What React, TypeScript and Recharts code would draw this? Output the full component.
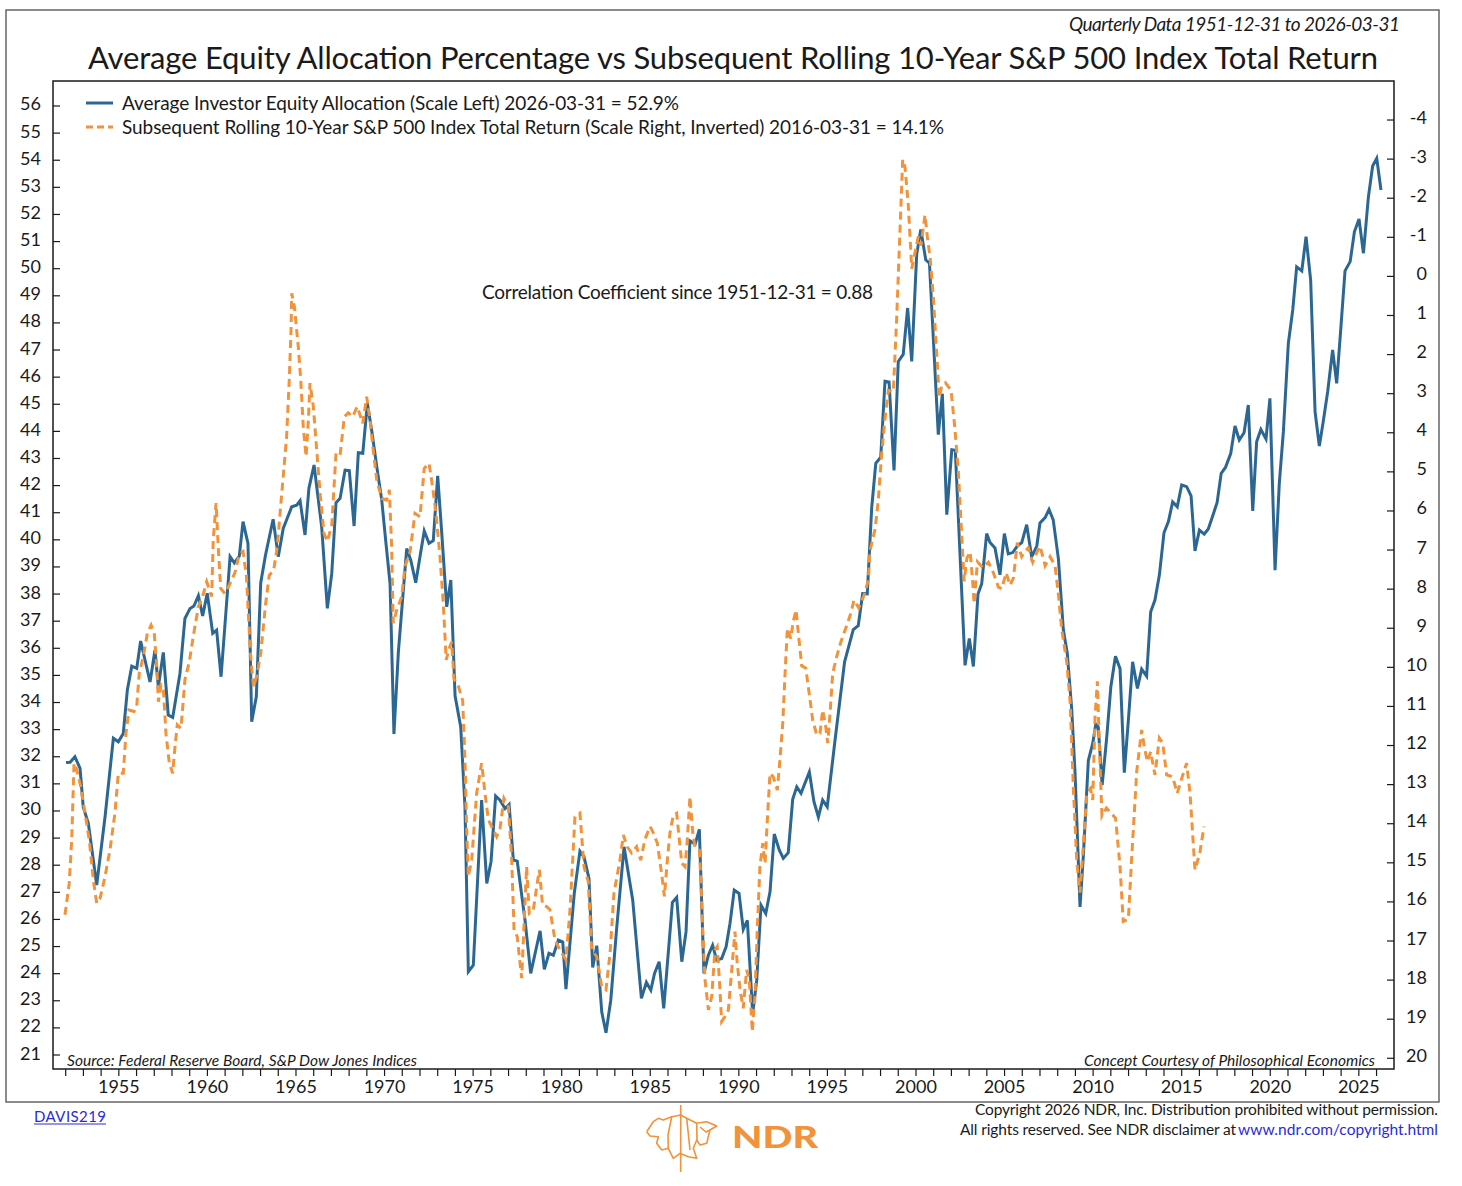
import React from "react";
import { LineChart, Line, XAxis, YAxis } from "recharts";

// Average investor equity allocation (%) at turning points
const equityAllocation: [number, number][] = [
  [1952.02, 31.79], [1952.25, 31.8], [1952.52, 32.0], [1952.81, 31.57], [1952.99, 30.15],
  [1953.28, 29.54], [1953.75, 27.27], [1954.22, 29.78], [1954.69, 32.68], [1954.97, 32.55],
  [1955.25, 32.86], [1955.48, 34.46], [1955.73, 35.34], [1956.01, 35.26], [1956.23, 36.27],
  [1956.76, 34.76], [1957.04, 35.93], [1957.23, 34.58], [1957.51, 35.85], [1957.79, 33.54],
  [1958.04, 33.45], [1958.45, 35.07], [1958.73, 37.1], [1959.02, 37.47], [1959.24, 37.56],
  [1959.49, 37.94], [1959.73, 37.19], [1959.99, 38.03], [1960.3, 36.55], [1960.52, 36.67],
  [1960.77, 34.95], [1961.28, 39.38], [1961.52, 39.15], [1961.8, 39.4], [1962.01, 40.67],
  [1962.29, 39.87], [1962.5, 33.29], [1962.76, 34.21], [1963.01, 38.42], [1963.28, 39.44],
  [1963.71, 40.76], [1964.0, 39.38], [1964.28, 40.42], [1964.76, 41.22], [1965.04, 41.28],
  [1965.23, 41.44], [1965.51, 40.18], [1965.73, 41.9], [1966.02, 42.76], [1966.45, 40.48],
  [1966.77, 37.47], [1967.02, 38.76], [1967.26, 41.37], [1967.49, 41.53], [1967.77, 42.57],
  [1968.01, 42.55], [1968.28, 40.51], [1968.52, 43.21], [1968.77, 43.19], [1969.03, 45.03],
  [1969.27, 44.05], [1969.56, 42.7], [1969.84, 41.47], [1970.08, 39.87], [1970.31, 38.39],
  [1970.53, 32.84], [1970.78, 35.87], [1971.25, 39.68], [1971.48, 39.25], [1971.76, 38.42],
  [1972.0, 39.38], [1972.24, 40.33], [1972.51, 39.87], [1972.75, 39.97], [1973.0, 42.36],
  [1973.23, 40.24], [1973.51, 37.53], [1973.74, 38.52], [1973.98, 34.25], [1974.3, 33.1],
  [1974.54, 30.15], [1974.73, 24.07], [1975.01, 24.31], [1975.48, 30.4], [1975.77, 27.33],
  [1976.01, 28.13], [1976.27, 30.55], [1976.52, 30.4], [1976.8, 30.09], [1977.03, 30.24],
  [1977.27, 28.19], [1977.49, 28.15], [1977.93, 25.97], [1978.25, 24.01], [1978.78, 25.58],
  [1979.02, 24.16], [1979.28, 24.75], [1979.53, 24.68], [1979.81, 25.24], [1980.06, 25.17],
  [1980.24, 23.43], [1980.71, 26.96], [1981.03, 28.52], [1981.26, 28.31], [1981.54, 27.51],
  [1981.75, 24.23], [1981.98, 25.03], [1982.26, 22.59], [1982.5, 21.82], [1982.77, 23.02],
  [1983.11, 25.73], [1983.52, 28.68], [1984.01, 26.71], [1984.5, 23.09], [1984.78, 23.68],
  [1985.03, 23.39], [1985.24, 24.01], [1985.5, 24.44], [1985.76, 22.72], [1986.25, 26.63],
  [1986.49, 26.81], [1986.78, 24.44], [1987.02, 25.55], [1987.24, 28.9], [1987.53, 28.78],
  [1987.77, 29.32], [1988.03, 24.01], [1988.28, 24.68], [1988.52, 25.05], [1988.75, 24.5],
  [1989.03, 24.56], [1989.28, 24.99], [1989.5, 25.85], [1989.74, 27.08], [1990.01, 26.96],
  [1990.25, 25.63], [1990.48, 25.97], [1990.78, 22.53], [1991.01, 23.76], [1991.25, 26.53],
  [1991.52, 26.22], [1991.76, 27.02], [1992.0, 29.15], [1992.28, 28.56], [1992.51, 28.25],
  [1992.79, 28.46], [1993.04, 30.43], [1993.27, 30.89], [1993.51, 30.65], [1993.98, 31.44],
  [1994.24, 30.34], [1994.49, 29.78], [1994.73, 30.4], [1994.99, 30.15], [1995.43, 32.61],
  [1995.97, 35.5], [1996.46, 36.69], [1996.74, 36.83], [1996.99, 38.02], [1997.25, 38.01],
  [1997.5, 41.18], [1997.73, 42.82], [1998.01, 43.05], [1998.25, 45.85], [1998.48, 45.82],
  [1998.76, 42.56], [1999.0, 46.58], [1999.28, 46.84], [1999.53, 48.55], [1999.76, 46.58],
  [2000.04, 50.53], [2000.27, 51.45], [2000.55, 50.33], [2000.76, 50.2], [2001.26, 43.88],
  [2001.49, 45.39], [2001.74, 40.93], [2002.02, 43.32], [2002.22, 43.3], [2002.77, 35.37],
  [2003.01, 36.36], [2003.24, 35.33], [2003.5, 38.0], [2003.71, 38.38], [2003.99, 40.23],
  [2004.18, 39.9], [2004.46, 39.7], [2004.74, 38.71], [2004.99, 40.23], [2005.21, 39.48],
  [2005.46, 39.53], [2005.72, 39.77], [2005.97, 39.9], [2006.25, 40.56], [2006.53, 39.37],
  [2006.82, 39.77], [2007.0, 40.62], [2007.29, 40.82], [2007.51, 41.12], [2007.75, 40.73],
  [2008.04, 39.3], [2008.32, 36.67], [2008.54, 35.82], [2008.79, 33.77], [2008.98, 31.4],
  [2009.26, 26.46], [2009.45, 28.37], [2009.73, 31.86], [2009.98, 32.5], [2010.15, 33.2],
  [2010.29, 33.1], [2010.51, 30.95], [2010.77, 32.73], [2011.0, 34.58], [2011.26, 35.71],
  [2011.52, 35.25], [2011.76, 31.41], [2011.99, 33.35], [2012.23, 35.5], [2012.5, 34.52],
  [2012.74, 35.23], [2013.02, 34.97], [2013.25, 37.35], [2013.49, 37.78], [2013.74, 38.7],
  [2014.0, 40.26], [2014.25, 40.67], [2014.49, 41.4], [2014.75, 41.22], [2015.0, 42.02],
  [2015.28, 41.96], [2015.53, 41.62], [2015.75, 39.59], [2016.0, 40.36], [2016.27, 40.21],
  [2016.5, 40.4], [2016.75, 40.88], [2017.0, 41.38], [2017.23, 42.45], [2017.47, 42.67],
  [2017.77, 43.19], [2018.01, 44.2], [2018.25, 43.68], [2018.52, 43.95], [2018.76, 44.97],
  [2019.01, 41.07], [2019.23, 43.62], [2019.47, 44.07], [2019.76, 43.72], [2019.98, 45.22],
  [2020.27, 38.88], [2020.51, 42.08], [2020.74, 43.99], [2021.02, 47.25], [2021.27, 48.48],
  [2021.49, 50.07], [2021.78, 49.92], [2022.02, 51.18], [2022.28, 49.58], [2022.53, 44.72],
  [2022.77, 43.46], [2022.99, 44.36], [2023.24, 45.46], [2023.52, 47.0], [2023.75, 45.77],
  [2023.99, 47.86], [2024.22, 49.92], [2024.51, 50.26], [2024.75, 51.36], [2025.01, 51.83],
  [2025.26, 50.57], [2025.54, 52.65], [2025.78, 53.79], [2026.01, 54.07], [2026.25, 52.9],
];

// Subsequent rolling 10-year S&P 500 total return (%), plotted on the inverted right scale
const subsequentReturn: [number, number][] = [
  [1951.96, 16.33], [1952.2, 15.52], [1952.34, 14.41], [1952.47, 12.45], [1952.62, 12.62],
  [1952.85, 13.05], [1953.09, 13.73], [1953.33, 14.41], [1953.56, 15.44], [1953.75, 16.03],
  [1953.94, 15.91], [1954.22, 15.35], [1954.5, 14.67], [1954.78, 13.73], [1954.97, 12.71],
  [1955.25, 12.71], [1955.4, 11.69], [1955.57, 11.09], [1955.86, 11.13], [1956.01, 11.0],
  [1956.15, 10.15], [1956.38, 9.73], [1956.61, 9.13], [1956.82, 8.92], [1957.0, 9.13],
  [1957.14, 9.98], [1957.23, 10.88], [1957.38, 10.45], [1957.51, 10.53], [1957.66, 11.69],
  [1957.85, 12.45], [1958.04, 12.71], [1958.17, 12.03], [1958.3, 11.47], [1958.51, 11.56],
  [1958.73, 10.32], [1958.98, 9.85], [1959.2, 9.21], [1959.49, 8.45], [1959.73, 8.19],
  [1959.96, 7.81], [1960.24, 8.19], [1960.33, 6.74], [1960.49, 5.8], [1960.61, 6.91],
  [1960.75, 7.98], [1960.99, 8.11], [1961.28, 7.85], [1961.56, 7.57], [1961.8, 7.1],
  [1962.01, 7.04], [1962.2, 7.65], [1962.31, 8.62], [1962.44, 9.7], [1962.6, 10.5],
  [1962.8, 10.2], [1963.02, 9.6], [1963.28, 8.4], [1963.49, 7.65], [1963.74, 7.51],
  [1963.95, 6.9], [1964.1, 6.06], [1964.28, 5.12], [1964.47, 4.1], [1964.62, 2.65],
  [1964.72, 1.37], [1964.76, 0.43], [1964.91, 0.77], [1965.13, 1.8], [1965.27, 2.65],
  [1965.41, 3.84], [1965.57, 4.61], [1965.7, 3.67], [1965.79, 2.73], [1965.98, 3.33],
  [1966.17, 4.44], [1966.36, 5.55], [1966.58, 6.57], [1966.77, 6.78], [1967.02, 6.36],
  [1967.26, 4.52], [1967.49, 4.57], [1967.73, 3.59], [1967.95, 3.49], [1968.2, 3.59],
  [1968.46, 3.33], [1968.77, 3.76], [1968.99, 3.08], [1969.18, 3.67], [1969.36, 4.44],
  [1969.56, 5.21], [1969.84, 5.68], [1970.12, 5.72], [1970.27, 5.46], [1970.4, 6.91],
  [1970.49, 8.87], [1970.69, 8.53], [1970.97, 8.19], [1971.15, 7.42], [1971.44, 7.04],
  [1971.72, 6.06], [1972.0, 6.15], [1972.24, 4.91], [1972.51, 4.78], [1972.71, 5.38],
  [1972.9, 6.06], [1973.13, 7.17], [1973.32, 8.4], [1973.48, 9.81], [1973.66, 9.5],
  [1973.79, 9.35], [1973.92, 10.3], [1974.16, 10.47], [1974.41, 10.85], [1974.54, 12.37],
  [1974.63, 14.07], [1974.73, 15.35], [1974.92, 14.93], [1975.2, 13.22], [1975.48, 12.45],
  [1975.67, 13.22], [1975.86, 13.9], [1976.05, 14.07], [1976.33, 14.33], [1976.52, 14.12],
  [1976.74, 13.35], [1976.99, 13.56], [1977.18, 14.93], [1977.31, 16.72], [1977.49, 16.89],
  [1977.74, 17.95], [1977.87, 16.63], [1978.02, 15.1], [1978.17, 16.29], [1978.4, 16.2],
  [1978.62, 15.52], [1978.74, 15.18], [1978.92, 16.08], [1979.15, 16.12], [1979.34, 16.2],
  [1979.62, 16.97], [1979.9, 17.23], [1980.24, 17.48], [1980.47, 16.2], [1980.75, 13.82],
  [1981.03, 13.73], [1981.26, 15.1], [1981.5, 15.48], [1981.69, 17.23], [1981.98, 17.4],
  [1982.26, 18.17], [1982.5, 18.25], [1982.73, 17.31], [1982.95, 15.78], [1983.29, 14.93],
  [1983.48, 14.29], [1983.7, 14.59], [1983.95, 14.75], [1984.23, 14.59], [1984.46, 14.93],
  [1984.7, 14.4], [1984.99, 14.07], [1985.14, 14.2], [1985.4, 14.5], [1985.64, 15.27],
  [1985.8, 15.86], [1985.95, 15.0], [1986.11, 14.24], [1986.3, 13.78], [1986.49, 13.73],
  [1986.64, 14.41], [1986.78, 15.01], [1986.96, 15.1], [1987.09, 14.41], [1987.24, 13.31],
  [1987.4, 14.24], [1987.52, 14.59], [1987.77, 14.67], [1987.86, 15.44], [1987.96, 16.72],
  [1988.09, 17.99], [1988.28, 18.76], [1988.47, 18.42], [1988.65, 17.23], [1988.78, 17.14],
  [1988.9, 17.99], [1989.03, 19.06], [1989.22, 18.93], [1989.41, 18.76], [1989.6, 17.74],
  [1989.78, 16.76], [1989.91, 17.57], [1990.07, 18.25], [1990.25, 18.72], [1990.44, 17.74],
  [1990.59, 17.99], [1990.76, 19.32], [1990.91, 18.42], [1991.04, 16.72], [1991.19, 15.1],
  [1991.35, 14.5], [1991.48, 15.01], [1991.63, 13.73], [1991.76, 12.71], [1991.94, 12.8],
  [1992.17, 13.14], [1992.32, 12.37], [1992.48, 11.43], [1992.61, 10.15], [1992.74, 9.0],
  [1992.93, 9.26], [1993.07, 8.83], [1993.23, 8.53], [1993.36, 9.13], [1993.55, 9.96],
  [1993.78, 10.02], [1994.02, 10.83], [1994.17, 11.35], [1994.4, 11.73], [1994.58, 11.69],
  [1994.73, 11.09], [1994.88, 11.43], [1995.02, 11.94], [1995.15, 11.17], [1995.3, 10.15],
  [1995.52, 9.73], [1995.76, 9.35], [1996.09, 8.93], [1996.32, 8.62], [1996.5, 8.28],
  [1996.77, 8.48], [1997.09, 8.13], [1997.31, 7.76], [1997.4, 7.02], [1997.69, 6.47],
  [1997.87, 5.74], [1998.06, 4.55], [1998.25, 3.64], [1998.44, 2.91], [1998.72, 2.95],
  [1998.91, 1.08], [1999.1, -1.2], [1999.25, -2.99], [1999.38, -2.8], [1999.57, -1.8],
  [1999.76, -0.2], [2000.13, -1.02], [2000.28, -0.79], [2000.51, -1.57], [2000.64, -1.02],
  [2000.8, -0.47], [2000.98, 0.53], [2001.17, 1.99], [2001.32, 3.1], [2001.45, 2.81],
  [2001.66, 2.72], [2001.98, 2.91], [2002.2, 3.9], [2002.39, 5.0], [2002.58, 6.6],
  [2002.72, 7.8], [2002.88, 7.2], [2003.06, 7.05], [2003.2, 7.8], [2003.28, 8.37],
  [2003.47, 7.3], [2003.77, 7.45], [2004.09, 7.31], [2004.37, 7.58], [2004.65, 7.95],
  [2004.84, 7.99], [2005.09, 7.58], [2005.31, 7.9], [2005.5, 7.72], [2005.72, 6.81],
  [2005.97, 7.17], [2006.16, 7.03], [2006.34, 6.94], [2006.59, 7.31], [2006.85, 7.03],
  [2007.0, 6.9], [2007.29, 7.4], [2007.57, 7.17], [2007.85, 7.4], [2008.04, 8.13],
  [2008.23, 9.04], [2008.51, 9.86], [2008.7, 10.87], [2008.89, 13.15], [2009.08, 14.98],
  [2009.26, 15.76], [2009.45, 14.52], [2009.64, 13.24], [2009.85, 13.1], [2009.98, 13.39],
  [2010.11, 11.26], [2010.24, 10.36], [2010.35, 12.0], [2010.5, 13.8], [2010.75, 13.6],
  [2010.99, 13.72], [2011.27, 13.86], [2011.52, 15.1], [2011.7, 16.5], [2011.99, 16.44],
  [2012.17, 14.93], [2012.46, 12.67], [2012.74, 11.6], [2012.89, 12.03], [2013.06, 12.41],
  [2013.25, 12.16], [2013.49, 12.75], [2013.74, 11.81], [2013.93, 11.94], [2014.15, 12.75],
  [2014.49, 12.8], [2014.75, 13.22], [2015.0, 12.84], [2015.28, 12.45], [2015.47, 13.22],
  [2015.75, 15.18], [2016.02, 14.75], [2016.26, 14.07],
];

const leftTicks = [21, 22, 23, 24, 25, 26, 27, 28, 29, 30, 31, 32, 33, 34, 35, 36, 37, 38,
  39, 40, 41, 42, 43, 44, 45, 46, 47, 48, 49, 50, 51, 52, 53, 54, 55, 56];
const rightTicks = [-4, -3, -2, -1, 0, 1, 2, 3, 4, 5, 6, 7, 8, 9, 10, 11, 12, 13, 14, 15,
  16, 17, 18, 19, 20];
const labelYears = [1955, 1960, 1965, 1970, 1975, 1980, 1985, 1990, 1995, 2000, 2005, 2010,
  2015, 2020, 2025];
const yearTicks = Array.from({ length: 75 }, (_, i) => 1952 + i);

const allocData = equityAllocation.map(([t, v]) => ({ t, v }));
const returnData = subsequentReturn.map(([t, v]) => ({ t, v }));

const W = 1462;
const H = 1180;
const PL = 53;
const PT = 81;
const PR = 1394;
const PB = 1069;

const FONT = "Lato, 'Open Sans', sans-serif";
const BLUE = "#2c6793";
const ORANGE = "#f2923a";
const INK = "#1a1a1a";

const LeftTick = (props: any) => {
  const { y, payload } = props;
  return (
    <g>
      <line x1={PL} x2={PL + 7} y1={y} y2={y} stroke={INK} strokeWidth={1.2} />
      <text x={PL - 12} y={y + 4.5} textAnchor="end" fontSize={18} fontFamily={FONT} fill={INK}>
        {payload.value}
      </text>
    </g>
  );
};

const RightTick = (props: any) => {
  const { y, payload } = props;
  return (
    <g>
      <line x1={PR - 7} x2={PR} y1={y} y2={y} stroke={INK} strokeWidth={1.2} />
      <text x={1427} y={y + 3.5} textAnchor="end" fontSize={18} fontFamily={FONT} fill={INK}>
        {payload.value}
      </text>
    </g>
  );
};

const YearTick = (props: any) => {
  const { x, payload } = props;
  return (
    <g>
      <line x1={x} x2={x} y1={PB} y2={PB + 7} stroke={INK} strokeWidth={1.2} />
      {labelYears.includes(payload.value) && (
        <text x={x} y={PB + 23.5} textAnchor="middle" fontSize={18} fontFamily={FONT} fill={INK}>
          {payload.value}
        </text>
      )}
    </g>
  );
};

const Logo = () => (
  <g stroke={ORANGE} strokeWidth={1.6} fill="none" strokeLinejoin="round">
    <line x1={680.7} x2={680.7} y1={1105} y2={1172} />
    <polyline
      points="646.7,1131.7 653.3,1121.7 658.3,1118.3 663.3,1120 671.7,1116.7 680.7,1115 686.7,1118.3 696.7,1123.3 706.7,1121.7 716.7,1126 710,1130 706.7,1143.3 700,1145 696.7,1140 693.3,1148.3 696.7,1158.3 688.3,1156.7 680,1153.3 673.3,1158.3 668.3,1148.3 661.7,1150 656.7,1143.3 658.3,1136.7 650,1136 646.7,1131.7"
    />
    <polyline points="686.7,1118.3 690,1150" />
    <polyline points="696.7,1123.3 697,1140" />
    <polyline points="671.7,1116.7 668,1135 668.3,1148.3" />
    <polyline points="700,1127 706,1132 710,1130" />
  </g>
);

const App: React.FC = () => {
  return (
    <div style={{ position: "absolute", left: 0, top: 0, width: W, height: H, overflow: "hidden", background: "#fff" }}>
      <LineChart
        width={W}
        height={H}
        margin={{ top: PT, left: PL - 40, right: W - PR - 50, bottom: H - PB - 40 }}
      >
        <XAxis
          type="number"
          dataKey="t"
          domain={[1951.283, 2026.985]}
          allowDataOverflow
          ticks={yearTicks}
          interval={0}
          tick={YearTick}
          tickLine={false}
          axisLine={false}
          height={40}
        />
        <YAxis
          yAxisId="left"
          type="number"
          domain={[20.484, 56.922]}
          allowDataOverflow
          ticks={leftTicks}
          interval={0}
          tick={LeftTick}
          tickLine={false}
          axisLine={false}
          width={40}
        />
        <YAxis
          yAxisId="right"
          orientation="right"
          type="number"
          reversed
          domain={[-4.998, 20.274]}
          allowDataOverflow
          ticks={rightTicks}
          interval={0}
          tick={RightTick}
          tickLine={false}
          axisLine={false}
          width={50}
        />
        <Line
          yAxisId="left"
          data={allocData}
          dataKey="v"
          type="linear"
          stroke={BLUE}
          strokeWidth={3}
          dot={false}
          isAnimationActive={false}
        />
        <Line
          yAxisId="right"
          data={returnData}
          dataKey="v"
          type="linear"
          stroke={ORANGE}
          strokeWidth={3}
          strokeDasharray="8 5"
          dot={false}
          isAnimationActive={false}
        />
      </LineChart>

      <svg width={W} height={H} style={{ position: "absolute", left: 0, top: 0, pointerEvents: "none" }}>
        <rect x={6} y={10} width={1433} height={1092} fill="none" stroke="#666" strokeWidth={1.5} />
        <rect x={PL} y={PT} width={PR - PL} height={PB - PT} fill="none" stroke={INK} strokeWidth={1.5} />

        <g fontFamily={FONT} fill={INK}>
          <text x={1400} y={31} fontSize={19} fontStyle="italic" textAnchor="end" textLength={331} lengthAdjust="spacing">
            Quarterly Data 1951-12-31 to 2026-03-31
          </text>
          <text x={88} y={69} fontSize={31} textLength={1290} lengthAdjust="spacing">
            Average Equity Allocation Percentage vs Subsequent Rolling 10-Year S&amp;P 500 Index Total Return
          </text>

          <line x1={86} x2={113} y1={103} y2={103} stroke={BLUE} strokeWidth={3} />
          <text x={122} y={109.5} fontSize={19} textLength={557} lengthAdjust="spacing">
            Average Investor Equity Allocation (Scale Left) 2026-03-31 = 52.9%
          </text>
          <line x1={86} x2={113} y1={127} y2={127} stroke={ORANGE} strokeWidth={3} strokeDasharray="7 4" />
          <text x={122} y={133.5} fontSize={19} textLength={822} lengthAdjust="spacing">
            Subsequent Rolling 10-Year S&amp;P 500 Index Total Return (Scale Right, Inverted) 2016-03-31 = 14.1%
          </text>

          <text x={482} y={299} fontSize={19} textLength={391} lengthAdjust="spacing">
            Correlation Coefficient since 1951-12-31 = 0.88
          </text>

          <text x={67} y={1066} fontSize={15.5} fontStyle="italic" textLength={350} lengthAdjust="spacing">
            Source:  Federal Reserve Board, S&amp;P Dow Jones Indices
          </text>
          <text x={1375} y={1066} fontSize={15.5} fontStyle="italic" textAnchor="end" textLength={291} lengthAdjust="spacing">
            Concept Courtesy of Philosophical Economics
          </text>

          <text x={34} y={1122} fontSize={15} fill="#2a2ae0" textLength={72} lengthAdjust="spacing">
            DAVIS219
          </text>
          <line x1={34} x2={106} y1={1124} y2={1124} stroke="#2a2ae0" strokeWidth={1} />

          <text x={1438} y={1115} fontSize={15.5} textAnchor="end" textLength={463} lengthAdjust="spacing">
            Copyright 2026 NDR, Inc. Distribution prohibited without permission.
          </text>
          <text x={960} y={1135} fontSize={15.5} textLength={276} lengthAdjust="spacing">
            All rights reserved. See NDR disclaimer at
          </text>
          <text x={1238} y={1135} fontSize={15.5} fill="#2a2ae0" textLength={200} lengthAdjust="spacing">
            www.ndr.com/copyright.html
          </text>

          <text x={732} y={1148} fontSize={30} fontWeight={900} fill={ORANGE} textLength={86} lengthAdjust="spacingAndGlyphs">
            NDR
          </text>
        </g>
        <Logo />
      </svg>
    </div>
  );
};

export default App;
